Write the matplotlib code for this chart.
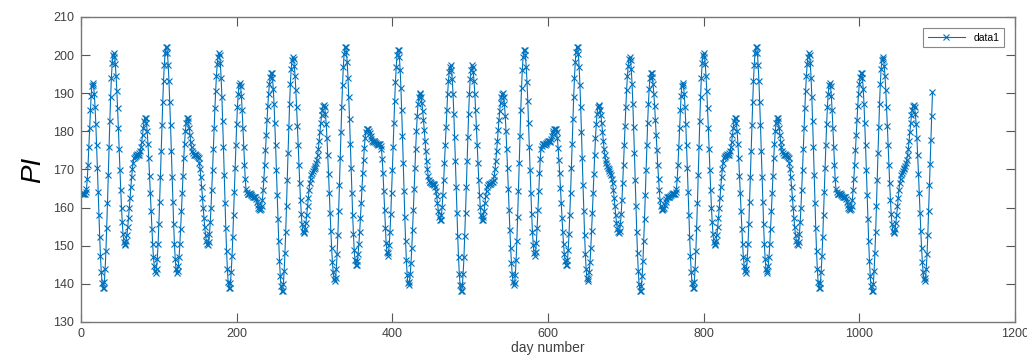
import numpy as np
import matplotlib
matplotlib.use('Agg')
import matplotlib.pyplot as plt

# PI value per day in blocks
pi_d001_109 = [
    163.6, 163.7, 163.6, 163.5, 163.6, 164.0, 164.9, 167.4, 171.2,
    175.9, 180.9, 185.6, 189.4, 191.9, 192.8, 192.1, 189.9, 186.5, 181.9,
    176.5, 170.4, 164.2, 158.0, 152.2, 147.2, 143.2, 140.3, 138.9, 138.9,
    140.6, 144.0, 148.7, 154.6, 161.3, 168.5, 175.8, 182.7, 188.9, 194.0,
    197.8, 200.0, 200.5, 199.6, 197.7, 194.6, 190.7, 186.0, 180.8, 175.4,
    169.9, 164.7, 160.0, 156.1, 153.0, 151.1, 150.2, 150.4, 151.3, 152.8,
    154.8, 157.2, 159.8, 162.6, 165.4, 167.9, 170.1, 171.8, 172.9, 173.4,
    173.6, 173.8, 174.0, 173.9, 173.9, 174.2, 174.8, 175.8, 177.2, 179.0,
    181.0, 182.7, 183.5, 183.4, 182.2, 180.0, 176.8, 172.9, 168.4, 163.7,
    159.0, 154.5, 150.5, 147.1, 144.7, 143.3, 142.9, 144.0, 146.6, 150.5,
    155.6, 161.6, 168.1, 174.9, 181.6, 187.7, 193.2, 197.5, 200.5, 202.0]

pi_d110_299 = [
    202.0, 200.5, 197.5, 193.2, 187.7, 181.6, 174.9, 168.1, 161.6, 155.6,
    150.5, 146.6, 144.0, 142.9, 143.3, 144.7, 147.1, 150.5, 154.5, 159.0,
    163.7, 168.4, 172.9, 176.8, 180.0, 182.2, 183.4, 183.5, 182.7, 181.0,
    179.0, 177.2, 175.8, 174.8, 174.2, 173.9, 173.9, 174.0, 173.8, 173.6,
    173.4, 172.9, 171.8, 170.1, 167.9, 165.4, 162.6, 159.8, 157.2, 154.8,
    152.8, 151.3, 150.4, 150.2, 151.1, 153.0, 156.1, 160.0, 164.7, 169.9,
    175.4, 180.8, 186.0, 190.7, 194.6, 197.7, 199.6, 200.5, 200.0, 197.8,
    194.0, 188.9, 182.7, 175.8, 168.5, 161.3, 154.6, 148.7, 144.0, 140.6,
    138.9, 138.9, 140.3, 143.2, 147.2, 152.2, 158.0, 164.2, 170.4, 176.5,
    181.9, 186.5, 189.9, 192.1, 192.8, 191.9, 189.4, 185.6, 180.9, 175.9,
    171.2, 167.4, 164.9, 164.0, 163.6, 163.5, 163.6, 163.7, 163.6, 163.3,
    163.0, 162.8, 162.8, 162.9, 162.8, 162.3, 161.5, 160.7, 160.0, 159.6,
    159.5, 159.6, 160.4, 162.0, 164.5, 167.6, 171.1, 175.0, 179.1, 183.0,
    186.7, 189.8, 192.4, 194.3, 195.2, 195.3, 194.0, 191.2, 187.2, 182.1,
    176.3, 169.9, 163.4, 157.0, 151.2, 146.1, 142.1, 139.4, 138.0, 138.2,
    140.0, 143.3, 148.0, 153.7, 160.3, 167.3, 174.4, 181.1, 187.3, 192.4,
    196.3, 198.7, 199.5, 198.9, 197.2, 194.5, 190.8, 186.4, 181.5, 176.4,
    171.3, 166.4, 162.0, 158.3, 155.6, 153.9, 153.3, 153.6, 154.5, 156.0,
    158.0, 160.3, 162.6, 164.7, 166.4, 167.6, 168.5, 169.2, 169.7, 170.1]

pi_d300_488 = [
    170.5, 171.0, 171.7, 172.6, 173.8, 175.5, 177.6, 179.9, 182.2,
    184.2, 185.7, 186.6, 186.9, 186.3, 184.6, 181.9, 178.2, 173.8, 168.9,
    163.8, 158.7, 153.8, 149.4, 145.7, 143.0, 141.3, 140.7, 141.5, 143.9,
    147.8, 152.9, 159.1, 165.8, 172.9, 179.9, 186.5, 192.2, 196.9, 200.2,
    202.0, 202.2, 200.8, 198.1, 194.1, 189.0, 183.2, 176.8, 170.3, 163.9,
    158.1, 153.0, 149.0, 146.2, 144.9, 145.0, 145.9, 147.8, 150.4, 153.5,
    157.2, 161.1, 165.2, 169.1, 172.6, 175.7, 178.2, 179.8, 180.6, 180.7,
    180.6, 180.2, 179.5, 178.7, 177.9, 177.4, 177.3, 177.4, 177.4, 177.2,
    176.9, 176.6, 176.5, 176.6, 176.7, 176.6, 176.2, 175.3, 172.8, 169.0,
    164.3, 159.3, 154.6, 150.8, 148.3, 147.4, 148.1, 150.3, 153.7, 158.3,
    163.7, 169.8, 176.0, 182.2, 188.0, 193.0, 197.0, 199.9, 201.3, 201.3,
    199.6, 196.2, 191.5, 185.6, 178.9, 171.7, 164.4, 157.5, 151.3, 146.2,
    142.4, 140.2, 139.7, 140.6, 142.5, 145.6, 149.5, 154.2, 159.4, 164.8,
    170.3, 175.5, 180.2, 184.1, 187.2, 189.1, 190.0, 189.8, 188.9, 187.4,
    185.4, 183.0, 180.4, 177.6, 174.8, 172.3, 170.1, 168.4, 167.3, 166.8,
    166.6, 166.4, 166.2, 166.3, 166.3, 166.0, 165.4, 164.4, 163.0, 161.2,
    159.2, 157.5, 156.7, 156.8, 158.0, 160.2, 163.4, 167.3, 171.8, 176.5,
    181.2, 185.7, 189.7, 193.1, 195.5, 196.9, 197.3, 196.2, 193.6, 189.7,
    184.6, 178.6, 172.1, 165.3, 158.6, 152.5, 147.0, 142.7, 139.7, 138.2]

pi_d489_678 = [
    138.2, 139.7, 142.7, 147.0, 152.5, 158.6, 165.3, 172.1, 178.6, 184.6,
    189.7, 193.6, 196.2, 197.3, 196.9, 195.5, 193.1, 189.7, 185.7, 181.2,
    176.5, 171.8, 167.3, 163.4, 160.2, 158.0, 156.8, 156.7, 157.5, 159.2,
    161.2, 163.0, 164.4, 165.4, 166.0, 166.3, 166.3, 166.2, 166.4, 166.6,
    166.8, 167.3, 168.4, 170.1, 172.3, 174.8, 177.6, 180.4, 183.0, 185.4,
    187.4, 188.9, 189.8, 190.0, 189.1, 187.2, 184.1, 180.2, 175.5, 170.3,
    164.8, 159.4, 154.2, 149.5, 145.6, 142.5, 140.6, 139.7, 140.2, 142.4,
    146.2, 151.3, 157.5, 164.4, 171.7, 178.9, 185.6, 191.5, 196.2, 199.6,
    201.3, 201.3, 199.9, 197.0, 193.0, 188.0, 182.2, 176.0, 169.8, 163.7,
    158.3, 153.7, 150.3, 148.1, 147.4, 148.3, 150.8, 154.6, 159.3, 164.3,
    169.0, 172.8, 175.3, 176.2, 176.6, 176.7, 176.6, 176.5, 176.6, 176.9,
    177.2, 177.4, 177.4, 177.3, 177.4, 177.9, 178.7, 179.5, 180.2, 180.6,
    180.7, 180.6, 179.8, 178.2, 175.7, 172.6, 169.1, 165.2, 161.1, 157.2,
    153.5, 150.4, 147.8, 145.9, 145.0, 144.9, 146.2, 149.0, 153.0, 158.1,
    163.9, 170.3, 176.8, 183.2, 189.0, 194.1, 198.1, 200.8, 202.2, 202.0,
    200.2, 196.9, 192.2, 186.5, 179.9, 172.9, 165.8, 159.1, 152.9, 147.8,
    143.9, 141.5, 140.7, 141.3, 143.0, 145.7, 149.4, 153.8, 158.7, 163.8,
    168.9, 173.8, 178.2, 181.9, 184.6, 186.3, 186.9, 186.6, 185.7, 184.2,
    182.2, 179.9, 177.6, 175.5, 173.8, 172.6, 171.7, 171.0, 170.5, 170.1]

pi_d679_867 = [
    169.7, 169.2, 168.5, 167.6, 166.4, 164.7, 162.6, 160.3, 158.0,
    156.0, 154.5, 153.6, 153.3, 153.9, 155.6, 158.3, 162.0, 166.4, 171.3,
    176.4, 181.5, 186.4, 190.8, 194.5, 197.2, 198.9, 199.5, 198.7, 196.3,
    192.4, 187.3, 181.1, 174.4, 167.3, 160.3, 153.7, 148.0, 143.3, 140.0,
    138.2, 138.0, 139.4, 142.1, 146.1, 151.2, 157.0, 163.4, 169.9, 176.3,
    182.1, 187.2, 191.2, 194.0, 195.3, 195.2, 194.3, 192.4, 189.8, 186.7,
    183.0, 179.1, 175.0, 171.1, 167.6, 164.5, 162.0, 160.4, 159.6, 159.5,
    159.6, 160.0, 160.7, 161.5, 162.3, 162.8, 162.9, 162.8, 162.8, 163.0,
    163.3, 163.6, 163.7, 163.6, 163.5, 163.6, 164.0, 164.9, 167.4, 171.2,
    175.9, 180.9, 185.6, 189.4, 191.9, 192.8, 192.1, 189.9, 186.5, 181.9,
    176.5, 170.4, 164.2, 158.0, 152.2, 147.2, 143.2, 140.3, 138.9, 138.9,
    140.6, 144.0, 148.7, 154.6, 161.3, 168.5, 175.8, 182.7, 188.9, 194.0,
    197.8, 200.0, 200.5, 199.6, 197.7, 194.6, 190.7, 186.0, 180.8, 175.4,
    169.9, 164.7, 160.0, 156.1, 153.0, 151.1, 150.2, 150.4, 151.3, 152.8,
    154.8, 157.2, 159.8, 162.6, 165.4, 167.9, 170.1, 171.8, 172.9, 173.4,
    173.6, 173.8, 174.0, 173.9, 173.9, 174.2, 174.8, 175.8, 177.2, 179.0,
    181.0, 182.7, 183.5, 183.4, 182.2, 180.0, 176.8, 172.9, 168.4, 163.7,
    159.0, 154.5, 150.5, 147.1, 144.7, 143.3, 142.9, 144.0, 146.6, 150.5,
    155.6, 161.6, 168.1, 174.9, 181.6, 187.7, 193.2, 197.5, 200.5, 202.0]

pi_d868_1056 = [
    202.0, 200.5, 197.5, 193.2, 187.7, 181.6, 174.9, 168.1, 161.6, 155.6,
    150.5, 146.6, 144.0, 142.9, 143.3, 144.7, 147.1, 150.5, 154.5, 159.0,
    163.7, 168.4, 172.9, 176.8, 180.0, 182.2, 183.4, 183.5, 182.7, 181.0,
    179.0, 177.2, 175.8, 174.8, 174.2, 173.9, 173.9, 174.0, 173.8, 173.6,
    173.4, 172.9, 171.8, 170.1, 167.9, 165.4, 162.6, 159.8, 157.2, 154.8,
    152.8, 151.3, 150.4, 150.2, 151.1, 153.0, 156.1, 160.0, 164.7, 169.9,
    175.4, 180.8, 186.0, 190.7, 194.6, 197.7, 199.6, 200.5, 200.0, 197.8,
    194.0, 188.9, 182.7, 175.8, 168.5, 161.3, 154.6, 148.7, 144.0, 140.6,
    138.9, 138.9, 140.3, 143.2, 147.2, 152.2, 158.0, 164.2, 170.4, 176.5,
    181.9, 186.5, 189.9, 192.1, 192.8, 191.9, 189.4, 185.6, 180.9, 175.9,
    171.2, 167.4, 164.9, 164.0, 163.6, 163.5, 163.6, 163.7, 163.6, 163.3,
    163.0, 162.8, 162.8, 162.9, 162.8, 162.3, 161.5, 160.7, 160.0, 159.6,
    159.5, 159.6, 160.4, 162.0, 164.5, 167.6, 171.1, 175.0, 179.1, 183.0,
    186.7, 189.8, 192.4, 194.3, 195.2, 195.3, 194.0, 191.2, 187.2, 182.1,
    176.3, 169.9, 163.4, 157.0, 151.2, 146.1, 142.1, 139.4, 138.0, 138.2,
    140.0, 143.3, 148.0, 153.7, 160.3, 167.3, 174.4, 181.1, 187.3, 192.4,
    196.3, 198.7, 199.5, 198.9, 197.2, 194.5, 190.8, 186.4, 181.5, 176.4,
    171.3, 166.4, 162.0, 158.3, 155.6, 153.9, 153.3, 153.6, 154.5, 156.0,
    158.0, 160.3, 162.6, 164.7, 166.4, 167.6, 168.5, 169.2, 169.7]

pi_d1057_1094 = [
    170.1,
    170.5, 171.0, 171.7, 172.6, 173.8, 175.5, 177.6, 179.9, 182.2,
    184.2, 185.7, 186.6, 186.9, 186.3, 184.6, 181.9, 178.2, 173.8, 168.9,
    163.8, 158.7, 153.8, 149.4, 145.7, 143.0, 141.3, 140.7, 141.5, 143.9,
    147.8, 152.9, 159.1, 165.8, 171.5, 177.8, 184.0, 190.3]

x_ticks = [0, 200, 400, 600, 800, 1000, 1200]
y_ticks = [130, 140, 150, 160, 170, 180, 190, 200, 210]

pi_values = np.array(pi_d001_109 + pi_d110_299 + pi_d300_488 + pi_d489_678
                     + pi_d679_867 + pi_d868_1056 + pi_d1057_1094)
days = np.arange(1, len(pi_values) + 1)

plt.rcParams['font.family'] = ['Liberation Sans', 'DejaVu Sans']

fig = plt.figure(figsize=(10.27, 3.58), dpi=100)
ax = fig.add_axes([0.0789, 0.1006, 0.9094, 0.852])

ax.plot(days, pi_values, color='#0072BD', linewidth=0.8, marker='x',
        markersize=4.8, markeredgewidth=0.8, label='data1')

ax.set_xlim(0, 1200)
ax.set_ylim(130, 210)
ax.set_xticks(x_ticks)
ax.set_yticks(y_ticks)

text_col = '#404040'
for s in ax.spines.values():
    s.set_color('#777777')
    s.set_linewidth(1.0)
ax.tick_params(direction='in', length=6.5, width=0.8, color='#555555',
               labelcolor=text_col, labelsize=9, top=True, right=True)
ax.tick_params(axis='x', pad=4)
ax.tick_params(axis='y', pad=5)

ax.set_xlabel('day number', fontsize=10, color=text_col, labelpad=1)
ax.set_ylabel('PI', fontsize=20, style='italic', color='black', labelpad=5)

leg = ax.legend(loc='upper right', fontsize=7.5, fancybox=False, framealpha=1,
                edgecolor='#888888', handlelength=3.6, borderaxespad=1.1,
                borderpad=0.4)
leg.get_frame().set_linewidth(0.8)

fig.savefig('out.png', dpi=100)
